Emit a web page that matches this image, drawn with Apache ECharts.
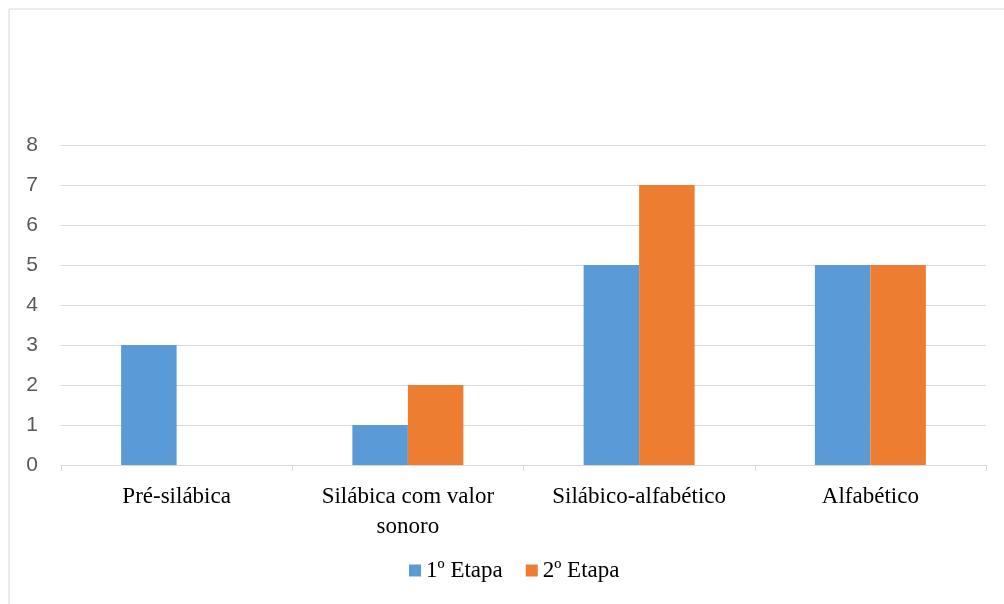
<!DOCTYPE html>
<html>
<head>
    <meta charset="utf-8">
    <title>Etapas</title>
    <script src="https://cdn.jsdelivr.net/npm/echarts@6/dist/echarts.min.js"></script>
    <style>
        html, body { margin: 0; padding: 0; background: #fff; }
        #main { width: 1004px; height: 604px; }
    </style>
</head>
<body>
<div id="main"></div>
<script type="text/javascript">
    // dados do gráfico
    var categorias = ['Pré-silábica', 'Silábica com valor\nsonoro', 'Silábico-alfabético', 'Alfabético'];
    var etapa1 = [3, 1, 5, 5];
    var etapa2 = [0, 2, 7, 5];
    var nomesSeries = ['1º Etapa', '2º Etapa'];

    var myChart = echarts.init(document.getElementById('main'));

    var option = {
        animation: false,
        backgroundColor: '#fff',
        color: ['#5B9BD5', '#ED7D31'],
        graphic: [{
            type: 'rect',
            shape: { x: 9, y: 9, width: 1100, height: 700 },
            style: { fill: 'none', stroke: '#D9D9D9', lineWidth: 1 },
            silent: true
        }],
        grid: { left: 61, right: 18, top: 145, bottom: 139 },
        legend: {
            data: nomesSeries,
            bottom: 17,
            left: 404,
            itemWidth: 12,
            itemHeight: 12,
            itemGap: 23,
            icon: 'rect',
            textStyle: { fontFamily: 'Liberation Serif', fontSize: 23, color: '#000' }
        },
        xAxis: {
            type: 'category',
            data: categorias,
            axisLine: { lineStyle: { color: '#D9D9D9' } },
            axisTick: { show: true, length: 6, lineStyle: { color: '#D9D9D9' } },
            axisLabel: {
                fontFamily: 'Liberation Serif',
                fontSize: 23,
                color: '#000',
                margin: 17,
                lineHeight: 30,
                interval: 0
            }
        },
        yAxis: {
            type: 'value',
            min: 0,
            max: 8,
            interval: 1,
            axisLine: { show: false },
            axisTick: { show: false },
            splitLine: { lineStyle: { color: '#D9D9D9' } },
            axisLabel: {
                fontFamily: 'Liberation Sans',
                fontSize: 21,
                color: '#595959',
                margin: 23
            }
        },
        series: [
            {
                name: nomesSeries[0],
                type: 'bar',
                data: etapa1,
                barGap: '0%',
                barCategoryGap: '52%'
            },
            {
                name: nomesSeries[1],
                type: 'bar',
                data: etapa2,
                barGap: '0%',
                barCategoryGap: '52%'
            }
        ]
    };
    myChart.setOption(option);
</script>
</body>
</html>
